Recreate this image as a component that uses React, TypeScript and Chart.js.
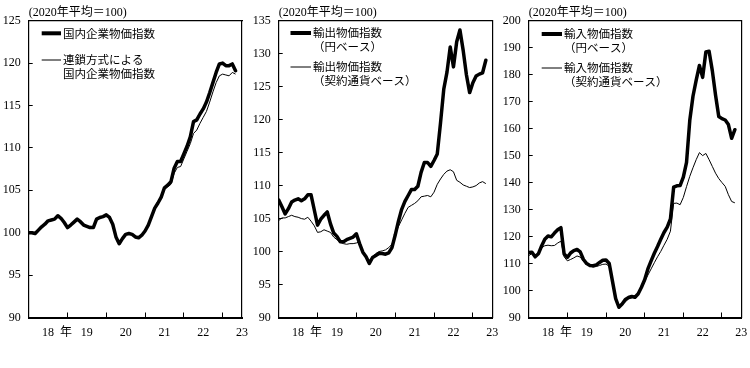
import React, { useEffect, useRef } from 'react';
import { Chart, registerables } from 'chart.js';

Chart.register(...registerables);

// Monthly data, Jan 2018 (index 0) to May 2023 (index 64)
const domesticIndex = [
  100.0, 100.0, 99.9, 100.3, 100.7, 101.0, 101.4, 101.5, 101.6, 102.0, 101.7, 101.2,
  100.6, 100.9, 101.25, 101.6, 101.3, 100.9, 100.75, 100.6, 100.6, 101.6, 101.8, 101.9,
  102.1, 101.8, 101.0, 99.5, 98.7, 99.3, 99.8, 99.9, 99.8, 99.5, 99.4, 99.7,
  100.2, 100.9, 101.9, 102.9, 103.5, 104.2, 105.3, 105.6, 106.0, 107.6, 108.4, 108.4,
  109.3, 110.2, 111.3, 113.1, 113.3, 114.0, 114.6, 115.4, 116.5, 117.7, 118.9, 119.9,
  120.0, 119.7, 119.7, 119.9, 119.1,
];
const domesticChain = [
  100.0, 100.0, 99.9, 100.3, 100.7, 101.0, 101.4, 101.5, 101.6, 102.0, 101.7, 101.2,
  100.6, 100.9, 101.25, 101.6, 101.3, 100.9, 100.75, 100.6, 100.6, 101.6, 101.8, 101.9,
  102.1, 101.8, 101.0, 99.5, 98.7, 99.3, 99.8, 99.9, 99.8, 99.5, 99.4, 99.7,
  100.2, 100.9, 101.9, 102.9, 103.5, 104.2, 105.1, 105.4, 105.7, 107.0, 107.7, 107.8,
  108.7, 109.6, 110.5, 111.7, 112.1, 112.9, 113.6, 114.3, 115.4, 116.6, 117.7, 118.5,
  118.7, 118.6, 118.5, 118.9, 118.7,
];
const exportYen = [
  107.8, 106.8, 105.7, 106.5, 107.5, 107.8, 108.0, 107.7, 108.0, 108.6, 108.6, 106.3,
  104.0, 104.9, 105.5, 106.0, 104.2, 102.8, 102.3, 101.5, 101.5, 101.8, 102.0, 102.2,
  102.7, 101.2, 99.9, 99.2, 98.2, 99.1, 99.4, 99.7, 99.7, 99.6, 99.8, 100.6,
  102.5, 104.6, 106.4, 107.6, 108.5, 109.4, 109.4, 109.9, 112.0, 113.5, 113.5, 112.9,
  113.8, 114.8, 119.5, 124.6, 127.2, 131.0, 128.0, 131.8, 133.6, 130.5, 126.8, 124.1,
  125.6, 126.6, 126.9, 127.1, 129.0,
];
const exportContract = [
  104.7, 105.1, 105.1, 105.3, 105.5, 105.3, 105.2, 105.0, 104.9, 105.2, 104.6, 103.9,
  102.9, 103.0, 103.3, 103.1, 102.9, 102.2, 101.8, 101.4, 101.2, 101.1, 101.2, 101.2,
  101.3, 101.5, 100.1, 99.2, 98.6, 99.2, 99.7, 100.0, 100.1, 100.25, 100.6, 101.1,
  102.6, 103.8, 104.8, 105.8, 106.7, 107.0, 107.3, 107.7, 108.3, 108.4, 108.5, 108.3,
  109.0, 110.2, 111.0, 111.7, 112.2, 112.4, 112.1, 110.8, 110.5, 110.1, 109.9, 109.7,
  109.8, 110.0, 110.4, 110.6, 110.3,
];
const importYen = [
  114.1, 114.2, 112.5, 113.6, 116.5, 119.0, 120.2, 119.9, 121.3, 122.5, 123.3, 113.5,
  112.3, 113.9, 114.8, 115.2, 114.3, 111.5, 110.0, 109.3, 109.2, 109.5, 110.4, 111.2,
  111.3, 110.0, 103.5, 97.0, 93.8, 95.0, 96.7, 97.4, 97.8, 97.5, 98.8, 101.2,
  104.0, 108.0, 111.0, 113.8, 116.3, 119.0, 121.5, 123.5, 126.5, 138.3, 138.8, 138.9,
  142.0, 147.5, 163.0, 172.0, 178.0, 183.4, 179.0, 188.4, 188.7, 181.5, 172.5, 164.5,
  163.7, 163.2, 161.5, 156.4, 159.6,
];
const importContract = [
  112.9, 113.7, 112.6, 114.0, 115.8, 116.6, 116.8, 116.6, 116.7, 117.6, 118.3, 112.5,
  111.0, 111.5, 112.1, 112.8, 112.4, 110.8, 109.7, 109.1, 108.7, 108.9, 109.3, 109.7,
  109.8, 109.0, 103.0, 97.0, 93.9, 94.6, 95.8, 96.9, 97.3, 98.0, 98.7, 100.8,
  103.3, 105.7, 108.0, 110.3, 112.5, 114.5, 116.8, 119.0, 122.0, 132.3, 132.4, 131.8,
  134.5, 138.5, 142.3, 145.5, 148.5, 151.1, 150.0, 150.8, 148.5, 146.0, 143.5, 141.5,
  140.0, 138.6, 135.5, 133.0, 132.5,
];

// x-axis: year labels placed mid-year (month index), boundaries at January
const yearLabelPositions = [6, 18, 30, 42, 54, 66];
const yearLabels = ['\u3000  18  年', '19', '20', '21', '22', '23'];
const yearBoundaries = [12, 24, 36, 48, 60];

const unitLabel = '(2020年平均＝100)';
const legendDomestic = [['国内企業物価指数'], ['連鎖方式による', '国内企業物価指数']];
const legendExport = [['輸出物価指数', '（円ベース）'], ['輸出物価指数', '（契約通貨ベース）']];
const legendImport = [['輸入物価指数', '（円ベース）'], ['輸入物価指数', '（契約通貨ベース）']];

const NUM_FONT = "'Liberation Serif', 'Noto Sans CJK JP', serif";
const JP_FONT = "'Noto Sans CJK JP', 'Liberation Serif', sans-serif";

type LegendLayout = { ys: number[]; x0: number; x1: number; tx: number };

type PanelCfg = {
  thick: number[];
  thin: number[];
  yMin: number;
  yMax: number;
  yStep: number;
  legendText: string[][];
  legend: LegendLayout;
  padRight: number;
};

const panels: PanelCfg[] = [
  {
    thick: domesticIndex, thin: domesticChain, yMin: 90, yMax: 125, yStep: 5,
    legendText: legendDomestic,
    legend: { ys: [12.6, 39.3], x0: 13, x1: 32.3, tx: 34.3 },
    padRight: 8,
  },
  {
    thick: exportYen, thin: exportContract, yMin: 90, yMax: 135, yStep: 5,
    legendText: legendExport,
    legend: { ys: [12.3, 46.3], x0: 11.8, x1: 32.3, tx: 34.3 },
    padRight: 7.7,
  },
  {
    thick: importYen, thin: importContract, yMin: 90, yMax: 200, yStep: 10,
    legendText: legendImport,
    legend: { ys: [13.3, 47.3], x0: 13, x1: 33.3, tx: 35.3 },
    padRight: 8.7,
  },
];

function makeLegendPlugin(texts: string[][], lay: LegendLayout) {
  return {
    id: 'panelLegend',
    afterDraw(chart: any) {
      const ctx = chart.ctx;
      const a = chart.chartArea;
      ctx.save();
      ctx.fillStyle = '#000';
      ctx.strokeStyle = '#000';
      ctx.font = `11.5px ${JP_FONT}`;
      ctx.textBaseline = 'middle';
      ctx.textAlign = 'left';
      texts.forEach((lines, k) => {
        const y = a.top + lay.ys[k];
        ctx.beginPath();
        ctx.lineWidth = k === 0 ? 4 : 1;
        ctx.moveTo(a.left + lay.x0, y);
        ctx.lineTo(a.left + lay.x1, y);
        ctx.stroke();
        lines.forEach((s, j) => {
          ctx.fillText(s, a.left + lay.tx, y + j * 14);
        });
      });
      ctx.restore();
    },
  };
}

const frameAxis = (position: string, axis: string) => ({
  type: 'linear',
  position,
  axis,
  display: true,
  min: 0,
  max: 1,
  ticks: { display: false },
  grid: { display: false, drawTicks: false },
  border: { display: true, color: '#000', width: 1.2 },
  afterFit: (s: any) => {
    if (axis === 'x') s.height = 0;
    else s.width = 0;
    s.paddingLeft = 0;
    s.paddingRight = 0;
    s.paddingTop = 0;
    s.paddingBottom = 0;
  },
});

const xTickValues = [...yearLabelPositions, ...yearBoundaries].sort((p, q) => p - q);

function Panel({ cfg, left }: { cfg: PanelCfg; left: number }) {
  const ref = useRef<HTMLCanvasElement>(null);
  useEffect(() => {
    if (!ref.current) return;
    const chart = new Chart(ref.current, {
      type: 'line',
      data: {
        datasets: [
          {
            data: cfg.thick.map((v, i) => ({ x: i, y: v })),
            borderColor: '#000',
            borderWidth: 3.5,
            pointRadius: 0,
            tension: 0,
            borderJoinStyle: 'round',
            borderCapStyle: 'round',
            xAxisID: 'x',
            yAxisID: 'y',
          },
          {
            data: cfg.thin.map((v, i) => ({ x: i, y: v })),
            borderColor: '#000',
            borderWidth: 1,
            pointRadius: 0,
            tension: 0,
            xAxisID: 'x',
            yAxisID: 'y',
          },
        ],
      },
      options: {
        animation: false,
        responsive: false,
        maintainAspectRatio: false,
        events: [],
        layout: { padding: { left: 0, right: cfg.padRight, top: 0, bottom: 0 } },
        plugins: {
          legend: { display: false },
          tooltip: { enabled: false },
          title: {
            display: true,
            text: unitLabel,
            align: 'start',
            fullSize: false,
            color: '#000',
            font: { family: NUM_FONT, size: 12, weight: 'normal' },
            padding: { top: 6, bottom: 0.3 },
          },
        },
        scales: {
          x: {
            type: 'linear',
            position: 'bottom',
            min: 0,
            max: 66,
            afterBuildTicks: (s: any) => {
              s.ticks = xTickValues.map((v) => ({ value: v }));
            },
            afterFit: (s: any) => {
              s.height = 50.5;
              s.paddingLeft = 0;
              s.paddingRight = 0;
            },
            ticks: {
              autoSkip: false,
              maxRotation: 0,
              padding: 13,
              color: '#000',
              font: { family: NUM_FONT, size: 12 },
              callback: (v: any) => {
                const k = yearLabelPositions.indexOf(Number(v));
                return k >= 0 ? yearLabels[k] : '';
              },
            },
            grid: {
              display: true,
              drawOnChartArea: false,
              drawTicks: true,
              tickLength: -5,
              lineWidth: 1,
              color: (c: any) =>
                c.tick && yearBoundaries.indexOf(c.tick.value) >= 0 ? '#000' : 'rgba(0,0,0,0)',
            },
            border: { display: true, color: '#000', width: 2 },
          },
          y: {
            position: 'left',
            min: cfg.yMin,
            max: cfg.yMax,
            afterFit: (s: any) => {
              s.width = 28.7;
            },
            ticks: {
              stepSize: cfg.yStep,
              padding: 12,
              color: '#000',
              font: { family: NUM_FONT, size: 12 },
            },
            grid: {
              display: true,
              drawOnChartArea: false,
              drawTicks: true,
              tickLength: -4,
              lineWidth: 1,
              color: '#000',
            },
            border: { display: true, color: '#000', width: 1.2 },
          },
          xTop: frameAxis('top', 'x'),
          yRight: frameAxis('right', 'y'),
        },
      } as any,
      plugins: [makeLegendPlugin(cfg.legendText, cfg.legend)],
    });
    return () => chart.destroy();
  }, [cfg]);
  return (
    <canvas
      ref={ref}
      width={250}
      height={368}
      style={{ position: 'absolute', left, top: 0, width: 250, height: 368 }}
    />
  );
}

export default function App() {
  return (
    <div
      style={{
        position: 'fixed',
        left: 0,
        top: 0,
        width: 750,
        height: 368,
        background: '#fff',
        overflow: 'hidden',
      }}
    >
      {panels.map((p, i) => (
        <Panel key={i} cfg={p} left={i * 250} />
      ))}
    </div>
  );
}
